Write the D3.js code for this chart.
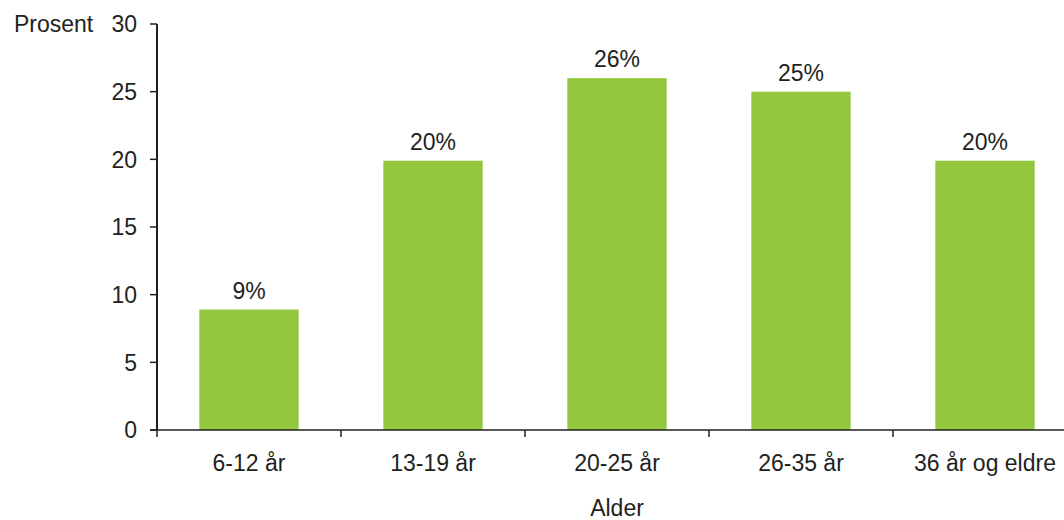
<!DOCTYPE html>
<html>
<head>
<meta charset="utf-8">
<script src="https://cdn.jsdelivr.net/npm/d3@7"></script>
<style>
  body { margin: 0; background: #fff; }
  svg text { font-family: "Liberation Sans", Arial, sans-serif; fill: #231f20; }
</style>
</head>
<body>
<div id="chart"></div>
<script>
const categories = ["6-12 år", "13-19 år", "20-25 år", "26-35 år", "36 år og eldre"];
const values = [8.9, 19.9, 26.0, 25.0, 19.9];
const valueLabels = ["9%", "20%", "26%", "25%", "20%"];
const yTicks = [0, 5, 10, 15, 20, 25, 30];

const width = 1064, height = 520;
const plotLeft = 157, plotRight = 1077, plotTop = 24, plotBottom = 430;
const axisColor = "#231f20";
const barColor = "#95c83f";
const fontSize = 23;

const svg = d3.select("#chart").append("svg")
    .attr("width", width)
    .attr("height", height);

const y = d3.scaleLinear().domain([0, 30]).range([plotBottom, plotTop]);

// slots for tick marks / labels
const xSlot = d3.scaleBand().domain(categories).range([plotLeft, plotRight]);
// bars inside slots
const x = d3.scaleBand().domain(categories).range([plotLeft, plotRight])
    .paddingInner(0.46).paddingOuter(0.23);

svg.selectAll(".bar")
    .data(categories)
    .enter()
    .append("rect")
    .attr("class", "bar")
    .attr("x", d => x(d))
    .attr("width", x.bandwidth())
    .attr("y", (d, i) => y(values[i]))
    .attr("height", (d, i) => y(0) - y(values[i]))
    .attr("fill", barColor);

svg.selectAll(".val-label")
    .data(categories)
    .enter()
    .append("text")
    .attr("class", "val-label")
    .attr("x", d => x(d) + x.bandwidth() / 2)
    .attr("y", (d, i) => y(values[i]) - 11)
    .attr("text-anchor", "middle")
    .style("font-size", fontSize + "px")
    .text((d, i) => valueLabels[i]);

// y axis
const yAxis = svg.append("g");
yAxis.append("line")
    .attr("x1", plotLeft).attr("x2", plotLeft)
    .attr("y1", y(30)).attr("y2", y(0))
    .attr("stroke", axisColor).attr("stroke-width", 2);
yAxis.selectAll(".ytick")
    .data(yTicks)
    .enter()
    .append("line")
    .attr("x1", plotLeft - 7).attr("x2", plotLeft)
    .attr("y1", d => y(d)).attr("y2", d => y(d))
    .attr("stroke", axisColor).attr("stroke-width", 1.5);
yAxis.selectAll(".ylabel")
    .data(yTicks)
    .enter()
    .append("text")
    .attr("x", plotLeft - 20)
    .attr("y", d => y(d))
    .attr("dy", "0.36em")
    .attr("text-anchor", "end")
    .style("font-size", fontSize + "px")
    .text(d => d);

svg.append("text")
    .attr("x", 14)
    .attr("y", y(30))
    .attr("dy", "0.36em")
    .style("font-size", fontSize + "px")
    .text("Prosent");

// x axis
const xAxis = svg.append("g");
xAxis.append("line")
    .attr("x1", plotLeft - 7).attr("x2", plotRight)
    .attr("y1", y(0)).attr("y2", y(0))
    .attr("stroke", axisColor).attr("stroke-width", 1.5);
const edges = categories.map(d => xSlot(d)).concat([plotRight]);
xAxis.selectAll(".xtick")
    .data(edges)
    .enter()
    .append("line")
    .attr("x1", d => d).attr("x2", d => d)
    .attr("y1", y(0)).attr("y2", y(0) + 7)
    .attr("stroke", axisColor).attr("stroke-width", 1.5);
xAxis.selectAll(".xlabel")
    .data(categories)
    .enter()
    .append("text")
    .attr("x", d => xSlot(d) + xSlot.bandwidth() / 2)
    .attr("y", 471)
    .attr("text-anchor", "middle")
    .style("font-size", fontSize + "px")
    .text(d => d);

svg.append("text")
    .attr("x", (x(categories[2]) + x.bandwidth() / 2))
    .attr("y", 516)
    .attr("text-anchor", "middle")
    .style("font-size", fontSize + "px")
    .text("Alder");
</script>
</body>
</html>
